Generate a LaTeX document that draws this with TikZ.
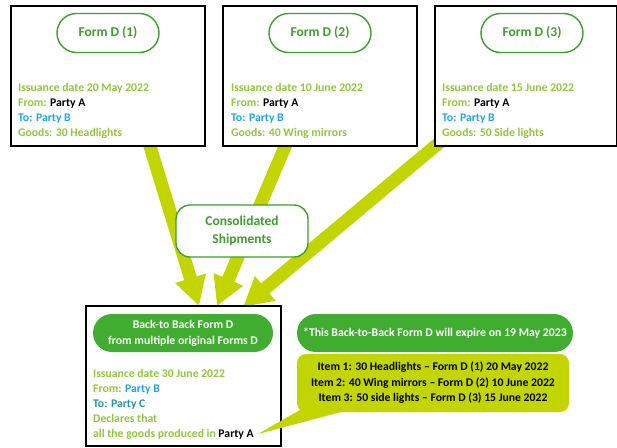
\documentclass[tikz,border=0pt]{standalone}
\usepackage{fontspec}
\setmainfont{Carlito}
\usetikzlibrary{arrows.meta}
\definecolor{lime}{HTML}{C3D500}
\definecolor{dgreen}{HTML}{3E9E2E}
\definecolor{fgreen}{HTML}{41AD30}
\definecolor{lgreen}{HTML}{92C73E}
\definecolor{pblue}{HTML}{1CA8E3}
\definecolor{pteal}{HTML}{2196A6}
\begin{document}
\begin{tikzpicture}[x=1pt,y=-1pt,
  formbox/.style={draw=black,line width=1.1pt,fill=white,inner sep=0pt,minimum width=#1,minimum height=140pt},
  formpill/.style={draw=dgreen,line width=1.4pt,fill=white,rounded corners=19.5pt,minimum width=102pt,minimum height=39pt,inner sep=0pt,text=dgreen,font=\fontsize{13.5}{16}\selectfont\bfseries},
  infoline/.style={anchor=base west,inner sep=0pt,text=lgreen,font=\fontsize{11.7}{13}\selectfont\bfseries},
  bigarrow/.style={draw=lime,line width=13pt,-{Triangle[length=29pt,width=30pt]}},
  greenpill/.style={fill=fgreen,rounded corners=19pt,minimum height=38pt,inner sep=0pt,text=white,align=center,font=\fontsize{11.8}{16}\selectfont\bfseries}
]
\useasboundingbox (0,0) rectangle (617,447);
% arrow anchors
\coordinate (a1s) at (146.5,135);
\coordinate (a1e) at (199,306);
\coordinate (a2s) at (290,135);
\coordinate (a2e) at (217,306);
\coordinate (a3s) at (452,132);
\coordinate (a3e) at (243,307);
\draw[bigarrow] (a1s) -- (a1e);
\draw[bigarrow] (a2s) -- (a2e);
\draw[bigarrow] (a3s) -- (a3e);
% top boxes
\node[formbox=194pt] (box1) at (108,76) {};
\node[formbox=194pt] (box2) at (320,76) {};
\node[formbox=181.5pt] (box3) at (525.75,76) {};
\node[formpill] (p1) at (108,33) {Form D (1)};
\node[formpill] (p2) at (320,33) {Form D (2)};
\node[formpill] (p3) at (532,33) {Form D (3)};
% box 1 text
\node[infoline] (b1l1) at (18,91) {Issuance date 20 May 2022};
\node[infoline] (b1l2) at (18,106) {From: \textcolor{black}{Party A}};
\node[infoline,text=pblue] (b1l3) at (18,121) {To: Party B};
\node[infoline] (b1l4) at (18,136) {Goods: 30 Headlights};
% box 2 text
\node[infoline] (b2l1) at (231,91) {Issuance date 10 June 2022};
\node[infoline] (b2l2) at (231,106) {From: \textcolor{black}{Party A}};
\node[infoline,text=pblue] (b2l3) at (231,121) {To: Party B};
\node[infoline] (b2l4) at (231,136) {Goods: 40 Wing mirrors};
% box 3 text
\node[infoline] (b3l1) at (442,91) {Issuance date 15 June 2022};
\node[infoline] (b3l2) at (442,106) {From: \textcolor{black}{Party A}};
\node[infoline,text=pblue] (b3l3) at (442,121) {To: Party B};
\node[infoline] (b3l4) at (442,136) {Goods: 50 Side lights};
% consolidated
\node[draw=dgreen,line width=1.4pt,fill=white,rounded corners=14pt,minimum width=132pt,minimum height=52pt,inner sep=0pt,text=dgreen,align=center,font=\fontsize{13.5}{18}\selectfont\bfseries] (cons) at (242,231) {Consolidated\\Shipments};
% bottom box
\node[formbox=195pt] (box4) at (183.5,376) {};
\node[greenpill,minimum width=180pt] (p4) at (183,333) {Back-to Back Form D\\from multiple original Forms D};
\node[infoline] (b4l1) at (93,377) {Issuance date 30 June 2022};
\node[infoline] (b4l2) at (93,392) {From: \textcolor{pblue}{Party B}};
\node[infoline,text=pteal] (b4l3) at (93,407) {To: Party C};
\node[infoline] (b4l4) at (93,422) {Declares that};
\node[infoline] (b4l5) at (93,437) {all the goods produced in \textcolor{black}{Party A}};
% expiry pill
\node[greenpill,minimum width=276pt] (exp) at (435,333) {*This Back-to-Back Form D will expire on 19 May 2023};
% callout
\coordinate (tip) at (258,434);
\fill[lime] (300,410) -- (tip) -- (345,411) -- cycle;
\node[fill=lime,rounded corners=9pt,minimum width=272pt,minimum height=58pt,inner sep=0pt,align=center,font=\fontsize{11.7}{15.5}\selectfont\bfseries] (items) at (433,383) {Item 1: 30 Headlights -- Form D (1) 20 May 2022\\Item 2: 40 Wing mirrors -- Form D (2) 10 June 2022\\Item 3: 50 side lights -- Form D (3) 15 June 2022};
\end{tikzpicture}
\end{document}
